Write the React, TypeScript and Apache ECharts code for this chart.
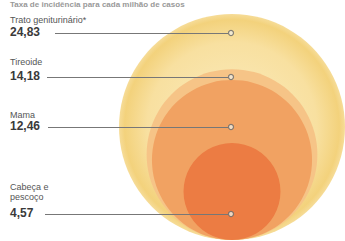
import React, { useEffect, useRef } from "react";
import * as echarts from "echarts";

const categories = ["Trato geniturinário*", "Tireoide", "Mama", "Cabeça e\npescoço"];
const values = [24.83, 14.18, 12.46, 4.57];
const valueLabels = ["24,83", "14,18", "12,46", "4,57"];
const dotY = [33, 77, 127, 214];
const labelTopY = [15, 57, 110, 182];
const circleColors = [
  null,
  "#f6c487",
  "#f1a262",
  "#ec7c43",
];

export default function App() {
  const ref = useRef<HTMLDivElement>(null);
  useEffect(() => {
    if (!ref.current) return;
    const chart = echarts.init(ref.current, undefined, { renderer: "svg" });
    const maxR = 113;
    const cx = 232;
    const bottom = 240;
    const circleData = values.map((v, i) => {
      const r = maxR * Math.sqrt(v / values[0]);
      const color =
        i === 0
          ? {
              type: "radial",
              x: 0.5,
              y: 0.5,
              r: 0.5,
              colorStops: [
                { offset: 0, color: "#fbecc0" },
                { offset: 0.75, color: "#f8e0a0" },
                { offset: 0.95, color: "#f3d27c" },
                { offset: 1, color: "#f6dc98" },
              ],
            }
          : circleColors[i];
      return {
        value: [cx, bottom - r],
        symbolSize: 2 * r,
        itemStyle: { color, opacity: 1 },
      };
    });
    const graphics: any[] = [
      {
        type: "text",
        left: 10,
        top: 0,
        style: {
          text: "Taxa de incidência para cada milhão de casos",
          fontSize: 8,
          fontWeight: "bold",
          fontFamily: "Liberation Sans, Arial, sans-serif",
          fill: "#999",
        },
      },
    ];
    categories.forEach((c, i) => {
      graphics.push({
        type: "text",
        left: 10,
        top: labelTopY[i],
        style: {
          text: c,
          fontSize: 9,
          lineHeight: 10,
          fontFamily: "Liberation Sans, Arial, sans-serif",
          fill: "#555",
        },
      });
      graphics.push({
        type: "text",
        left: 10,
        top: dotY[i] - 7,
        style: {
          text: valueLabels[i],
          fontSize: 12,
          fontWeight: "bold",
          fontFamily: "Liberation Sans, Arial, sans-serif",
          fill: "#3a3a3a",
          letterSpacing: -0.5,
        },
      });
    });
    const lineStarts = [55, 47, 48, 45];
    chart.setOption({
      animation: false,
      grid: { left: 0, right: 0, top: 0, bottom: 0 },
      xAxis: { type: "value", min: 0, max: 345, show: false },
      yAxis: { type: "value", min: 0, max: 241, inverse: true, show: false },
      series: [
        {
          type: "scatter",
          symbol: "circle",
          data: circleData,
          silent: true,
          z: 1,
        },
        {
          type: "lines",
          coordinateSystem: "cartesian2d",
          z: 3,
          lineStyle: { color: "#777", width: 1, opacity: 1 },
          data: dotY.map((y, i) => ({ coords: [[lineStarts[i], y], [228, y]] })),
        },
        {
          type: "scatter",
          symbol: "circle",
          symbolSize: 5,
          z: 4,
          itemStyle: { color: "#f3eee0", borderColor: "#666", borderWidth: 1.2 },
          data: dotY.map((y) => [231, y]),
        },
      ],
      graphic: graphics,
    });
    return () => chart.dispose();
  }, []);
  return <div ref={ref} style={{ width: 345, height: 241, position: "absolute", left: 0, top: 0, background: "#fff" }} />;
}
